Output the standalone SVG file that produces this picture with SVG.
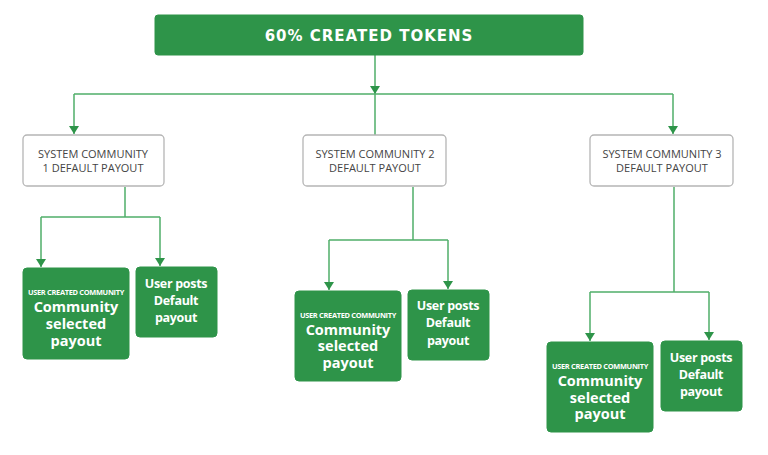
<svg xmlns="http://www.w3.org/2000/svg" width="768" height="455" viewBox="0 0 768 455">
<defs>
<marker id="ah" viewBox="0 0 8 10" refX="8" refY="5" markerWidth="8" markerHeight="10" markerUnits="userSpaceOnUse" orient="auto">
<path d="M0,0 L8,5 L0,10 Z" fill="#2e9449"/>
</marker>
<style>
.line{fill:none;stroke:#4fae68;stroke-width:1.5}
.gbox{fill:#2e9449;stroke:#2e9449}
.wbox{fill:#fff;stroke:#b5b5b5;stroke-width:1.3}
.wt{font-family:"Open Sans","Liberation Sans",sans-serif;font-size:11px;fill:#444;text-anchor:middle}
.big{font-family:"Open Sans","Liberation Sans",sans-serif;font-weight:bold;font-size:14.5px;fill:#fff;text-anchor:middle}
.sm{font-family:"Open Sans","Liberation Sans",sans-serif;font-weight:bold;font-size:7.4px;fill:#fff;text-anchor:middle;letter-spacing:-0.3px}
.up{font-family:"Open Sans","Liberation Sans",sans-serif;font-weight:bold;font-size:12.5px;fill:#fff;text-anchor:middle;letter-spacing:-0.3px}
.title{font-family:"DejaVu Sans","Liberation Sans",sans-serif;font-weight:bold;font-size:15px;fill:#fff;text-anchor:middle;letter-spacing:1px}
</style>
</defs>
<rect width="768" height="455" fill="#fff"/>
<g id="connectors">
<path class="line" d="M375,55 V94" marker-end="url(#ah)"/>
<path class="line" d="M375,94 V135"/>
<path class="line" d="M74,94 H673"/>
<path class="line" d="M74,94 V134" marker-end="url(#ah)"/>
<path class="line" d="M673,94 V134" marker-end="url(#ah)"/>
<path class="line" d="M125,187 V217"/>
<path class="line" d="M41,217 H160"/>
<path class="line" d="M41,217 V267" marker-end="url(#ah)"/>
<path class="line" d="M160,217 V266" marker-end="url(#ah)"/>
<path class="line" d="M413,187 V240"/>
<path class="line" d="M329,240 H448"/>
<path class="line" d="M329,240 V290" marker-end="url(#ah)"/>
<path class="line" d="M448,240 V289" marker-end="url(#ah)"/>
<path class="line" d="M674,187 V292"/>
<path class="line" d="M590,292 H709"/>
<path class="line" d="M590,292 V341" marker-end="url(#ah)"/>
<path class="line" d="M709,292 V340" marker-end="url(#ah)"/>
</g>
<g id="top">
<rect class="gbox" x="155" y="15" width="428" height="40" rx="3"/>
<text class="title" x="369" y="41">60% CREATED TOKENS</text>
</g>
<g id="sys1">
<rect class="wbox" x="23" y="135" width="141" height="51" rx="4"/>
<text class="wt" x="93" y="158">SYSTEM COMMUNITY</text>
<text class="wt" x="93" y="172">1 DEFAULT PAYOUT</text>
</g>
<g id="sys2">
<rect class="wbox" x="303" y="135" width="143" height="51" rx="4"/>
<text class="wt" x="375" y="158">SYSTEM COMMUNITY 2</text>
<text class="wt" x="375" y="172">DEFAULT PAYOUT</text>
</g>
<g id="sys3">
<rect class="wbox" x="590" y="135" width="143" height="51" rx="4"/>
<text class="wt" x="662" y="158">SYSTEM COMMUNITY 3</text>
<text class="wt" x="662" y="172">DEFAULT PAYOUT</text>
</g>
<g id="ucc1">
<rect class="gbox" x="23" y="268" width="106" height="91" rx="4"/>
<text class="sm" x="76" y="295">USER CREATED COMMUNITY</text>
<text class="big" x="76" y="312">Community</text>
<text class="big" x="76" y="329">selected</text>
<text class="big" x="76" y="346">payout</text>
</g>
<g id="up1">
<rect class="gbox" x="136" y="267" width="81" height="70" rx="4"/>
<text class="up" x="176" y="288">User posts</text>
<text class="up" x="176" y="305">Default</text>
<text class="up" x="176" y="322">payout</text>
</g>
<g id="ucc2">
<rect class="gbox" x="295" y="291" width="106" height="90" rx="4"/>
<text class="sm" x="348" y="318">USER CREATED COMMUNITY</text>
<text class="big" x="348" y="335">Community</text>
<text class="big" x="348" y="351">selected</text>
<text class="big" x="348" y="368">payout</text>
</g>
<g id="up2">
<rect class="gbox" x="408" y="290" width="81" height="70" rx="4"/>
<text class="up" x="448" y="310">User posts</text>
<text class="up" x="448" y="327">Default</text>
<text class="up" x="448" y="345">payout</text>
</g>
<g id="ucc3">
<rect class="gbox" x="547" y="342" width="106" height="90" rx="4"/>
<text class="sm" x="600" y="369">USER CREATED COMMUNITY</text>
<text class="big" x="600" y="386">Community</text>
<text class="big" x="600" y="403">selected</text>
<text class="big" x="600" y="419">payout</text>
</g>
<g id="up3">
<rect class="gbox" x="661" y="341" width="81" height="70" rx="4"/>
<text class="up" x="701" y="362">User posts</text>
<text class="up" x="701" y="379">Default</text>
<text class="up" x="701" y="396">payout</text>
</g>
</svg>
